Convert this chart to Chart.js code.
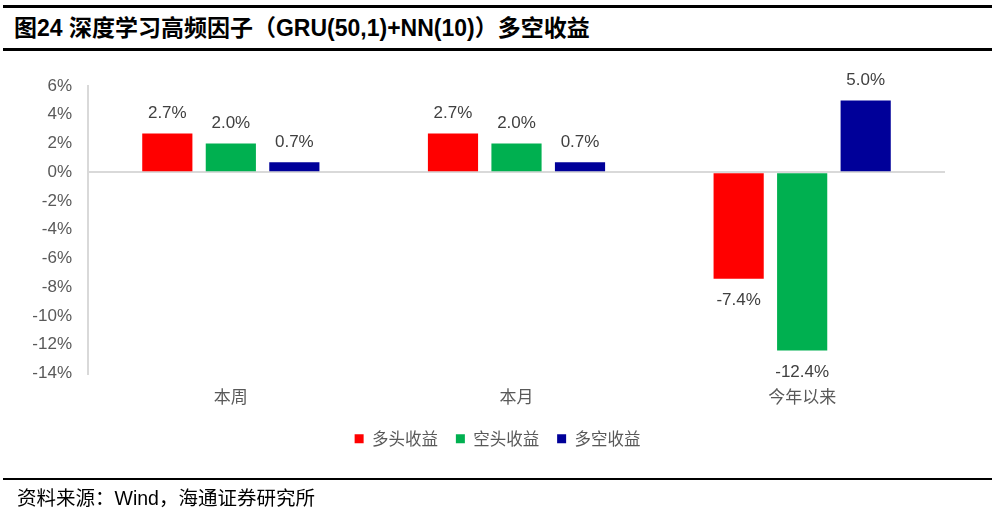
<!DOCTYPE html>
<html>
<head>
<meta charset="utf-8">
<script src="https://cdn.jsdelivr.net/npm/chart.js@4"></script>
<style>
  html, body { margin: 0; padding: 0; background: #fff; }
  #page { position: relative; width: 995px; height: 518px; overflow: hidden; }
  .rule { position: absolute; left: 3px; width: 989px; background: #000; }
  #title {
    position: absolute; left: 14px; top: 13px;
    font: bold 23px "Liberation Sans", "Noto Sans CJK SC", sans-serif;
    line-height: 30px;
    color: #000; white-space: nowrap;
  }
  #source {
    position: absolute; left: 17px; top: 485px;
    font: 19.5px "Liberation Sans", "Noto Sans CJK SC", sans-serif;
    line-height: 26px;
    color: #000; white-space: nowrap;
  }
  #wrap { position: absolute; left: 0; top: 0; width: 995px; height: 518px; }
</style>
</head>
<body>
<div id="page">
  <div class="rule" style="top:5px;height:3px"></div>
  <div id="title">图24 深度学习高频因子（GRU(50,1)+NN(10)）多空收益</div>
  <div class="rule" style="top:48px;height:3px"></div>
  <div id="wrap"><canvas id="chart"></canvas></div>
  <div class="rule" style="top:478px;height:2px"></div>
  <div id="source">资料来源：Wind，海通证券研究所</div>
</div>
<script>
// categories and series
const categories = ['本周', '本月', '今年以来'];
const longRet = [2.7, 2.7, -7.4];      // 多头收益
const shortRet = [2.0, 2.0, -12.4];    // 空头收益
const lsRet = [0.7, 0.7, 5.0];         // 多空收益
const yTicks = [-14, -12, -10, -8, -6, -4, -2, 0, 2, 4, 6];

// draw the value labels above / below each bar
const barLabels = {
  id: 'barLabels',
  afterDatasetsDraw(chart) {
    const ctx = chart.ctx;
    ctx.save();
    ctx.font = '17px "Liberation Sans", sans-serif';
    ctx.fillStyle = '#404040';
    ctx.textAlign = 'center';
    ctx.textBaseline = 'middle';
    chart.data.datasets.forEach((ds, i) => {
      chart.getDatasetMeta(i).data.forEach((bar, j) => {
        const v = ds.data[j];
        const y = v >= 0 ? bar.y - 20 : bar.y + 22;
        ctx.fillText(v.toFixed(1) + '%', bar.x, y);
      });
    });
    ctx.restore();
  }
};

// center the legend on the whole canvas rather than the padded box
const centerLegend = {
  id: 'centerLegend',
  afterLayout(chart) {
    const lg = chart.legend;
    if (!lg) return;
    const shift = (chart.width - (lg.left + lg.right)) / 2;
    lg.left += shift;
    lg.right += shift;
  }
};

const createChart = () => {
  const canvas = document.getElementById('chart');
  new Chart(canvas.getContext('2d'), {
    type: 'bar',
    data: {
      labels: categories,
      datasets: [
        { label: '多头收益', data: longRet, backgroundColor: '#ff0000' },
        { label: '空头收益', data: shortRet, backgroundColor: '#00b050' },
        { label: '多空收益', data: lsRet, backgroundColor: '#000099' },
      ],
    },
    options: {
      responsive: true,
      maintainAspectRatio: false,
      animation: false,
      layout: { padding: { top: 86, right: 50, bottom: 61, left: 0 } },
      datasets: {
        bar: { categoryPercentage: 0.667, barPercentage: 0.79 }
      },
      scales: {
        y: {
          min: -14,
          max: 6,
          afterBuildTicks: (scale) => { scale.ticks = yTicks.map(v => ({ value: v })); },
          afterFit: (scale) => { scale.width = 88; },
          grid: {
            drawTicks: false,
            color: (c) => c.tick && c.tick.value === 0 ? '#d9d9d9' : 'transparent',
            lineWidth: 2,
          },
          border: { display: true, color: '#d9d9d9', width: 2 },
          ticks: {
            padding: 16,
            color: '#595959',
            font: { family: '"Liberation Sans", sans-serif', size: 17 },
            callback: (v) => v + '%',
          },
        },
        x: {
          afterFit: (scale) => { scale.height = 39; },
          grid: { display: false, drawTicks: false },
          border: { display: false },
          ticks: {
            padding: 13,
            color: '#595959',
            font: { family: '"Noto Sans CJK SC", sans-serif', size: 17 },
          },
        },
      },
      plugins: {
        legend: {
          position: 'bottom',
          labels: {
            boxWidth: 9,
            boxHeight: 9,
            padding: 18,
            color: '#595959',
            font: { family: '"Noto Sans CJK SC", sans-serif', size: 16.5 },
          },
        },
        tooltip: { enabled: false },
      },
    },
    plugins: [barLabels, centerLegend],
  });
};

createChart();
</script>
</body>
</html>
